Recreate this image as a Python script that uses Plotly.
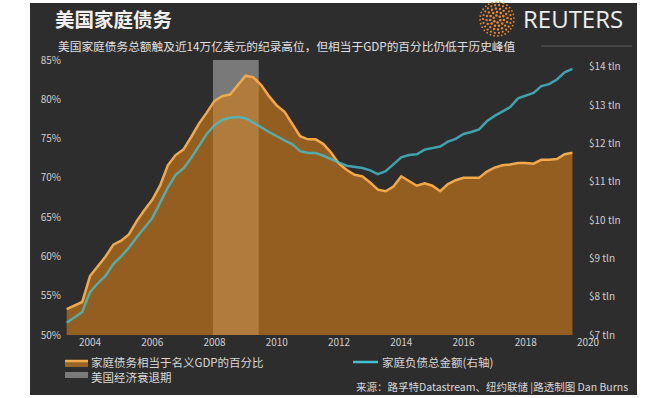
import math
import pandas as pd
import plotly.graph_objects as go

# ---------------- data ----------------
quarters = pd.period_range("2003Q1", "2019Q2", freq="Q")
x_years = [p.year + p.quarter / 4 for p in quarters]

debt_pct_gdp = [
    53.3, 53.8, 54.2, 57.5, 58.8, 60.0, 61.5, 62.0, 62.8, 64.5, 65.9, 67.2,
    69.0, 71.6, 72.9, 73.6, 75.2, 76.9, 78.3, 79.8, 80.4, 80.6, 81.8, 83.0,
    82.8, 81.8, 80.4, 79.2, 78.4, 76.8, 75.3, 74.9, 74.9, 74.3, 73.2, 71.8,
    71.0, 70.4, 70.2, 69.4, 68.5, 68.3, 68.9, 70.2, 69.6, 69.0, 69.3, 69.0,
    68.3, 69.2, 69.7, 70.0, 70.0, 70.0, 70.8, 71.3, 71.6, 71.7, 71.9, 71.9,
    71.8, 72.3, 72.3, 72.4, 73.0, 73.2,
]
debt_total_tln = [
    7.32, 7.45, 7.60, 8.12, 8.35, 8.55, 8.85, 9.05, 9.28, 9.55, 9.80, 10.05,
    10.45, 10.85, 11.18, 11.35, 11.62, 11.95, 12.25, 12.48, 12.62, 12.67, 12.69, 12.66,
    12.55, 12.42, 12.30, 12.18, 12.08, 11.98, 11.80, 11.75, 11.75, 11.68, 11.58, 11.50,
    11.42, 11.38, 11.36, 11.30, 11.20, 11.28, 11.45, 11.64, 11.70, 11.72, 11.84, 11.88,
    11.92, 12.05, 12.12, 12.25, 12.30, 12.37, 12.58, 12.72, 12.84, 12.95, 13.18, 13.25,
    13.32, 13.50, 13.55, 13.67, 13.86, 13.95,
]
recession = [2007.95, 2009.42]

x_ticks = [2004, 2006, 2008, 2010, 2012, 2014, 2016, 2018, 2020]
y_ticks = [50, 55, 60, 65, 70, 75, 80, 85]
y_ticktext = [f"{v}%" for v in y_ticks]
y2_ticks = [7, 8, 9, 10, 11, 12, 13, 14]
y2_ticktext = [f"${v} tln" for v in y2_ticks]

title = "美国家庭债务"
subtitle = "美国家庭债务总额触及近14万亿美元的纪录高位，但相当于GDP的百分比仍低于历史峰值"
legend_pct = "家庭债务相当于名义GDP的百分比"
legend_rec = "美国经济衰退期"
legend_total = "家庭负债总金额(右轴)"
source = "来源：路孚特Datastream、纽约联储 |路透制图 Dan Burns"

# ---------------- layout geometry ----------------
W, H = 650, 398
L, R, T, B = 62, 588, 60, 335
PW, PH = R - L, B - T
FONT = "Noto Sans CJK SC"
BG = "#2d2d2d"
ORANGE_LINE = "#f2a94b"
ORANGE_FILL = "rgba(210,125,22,0.62)"
TEAL = "#45c0cf"


def px(x):
    return (x - L) / PW


def py(y):
    return (B - y) / PH


fig = go.Figure()

fig.add_trace(go.Scatter(
    x=x_years, y=debt_pct_gdp, mode="lines", fill="tozeroy",
    fillcolor=ORANGE_FILL, line=dict(color=ORANGE_LINE, width=2.5),
    hoverinfo="skip", showlegend=False,
))
fig.add_trace(go.Scatter(
    x=x_years, y=debt_total_tln, mode="lines", yaxis="y2",
    line=dict(color=TEAL, width=2.5), opacity=0.8,
    hoverinfo="skip", showlegend=False,
))

shapes = []
# dark panel
shapes.append(dict(type="rect", xref="paper", yref="paper", layer="below",
                   x0=px(30), x1=px(637), y0=py(395), y1=py(3),
                   fillcolor=BG, line=dict(width=0)))
# recession band
shapes.append(dict(type="rect", xref="x", yref="paper", layer="below",
                   x0=recession[0], x1=recession[1], y0=0, y1=1,
                   fillcolor="rgba(205,205,205,0.48)", line=dict(width=0)))
# rule after subtitle
shapes.append(dict(type="line", xref="paper", yref="paper",
                   x0=px(541), x1=px(632), y0=py(46), y1=py(46),
                   line=dict(color="#5a5a5a", width=1)))
# legend swatches
shapes.append(dict(type="rect", xref="paper", yref="paper",
                   x0=px(65), x1=px(88), y0=py(367), y1=py(361),
                   fillcolor="#9a6424", line=dict(width=0)))
shapes.append(dict(type="line", xref="paper", yref="paper",
                   x0=px(65), x1=px(88), y0=py(361), y1=py(361),
                   line=dict(color=ORANGE_LINE, width=2.5)))
shapes.append(dict(type="rect", xref="paper", yref="paper",
                   x0=px(65), x1=px(88), y0=py(378), y1=py(372),
                   fillcolor="#7a7a7a", line=dict(width=0)))
shapes.append(dict(type="line", xref="paper", yref="paper",
                   x0=px(353), x1=px(378), y0=py(362), y1=py(362),
                   line=dict(color=TEAL, width=2.5)))

# Reuters logo (rings of dots)
cx, cy = 497, 19
rings = [(3.5, 6, 1.3), (7, 11, 1.3), (10.5, 16, 1.2), (14, 22, 1.1), (17, 28, 0.9)]
for rad, n, r in rings:
    for k in range(n):
        a = 2 * math.pi * k / n + rad
        xx = cx + rad * math.cos(a)
        yy = cy + rad * math.sin(a)
        shapes.append(dict(type="circle", xref="paper", yref="paper",
                           x0=px(xx - r), x1=px(xx + r), y0=py(yy + r), y1=py(yy - r),
                           fillcolor="#e88a2a", line=dict(width=0)))

annotations = [
    dict(text=f"<b>{title}</b>", x=px(53), y=py(19), xanchor="left", yanchor="middle",
         font=dict(size=19.5, color="#f0f0f0", family=FONT)),
    dict(text="REUTERS", x=px(521), y=py(19), xanchor="left", yanchor="middle",
         font=dict(size=24, color="#eeeeee", family="Open Sans")),
    dict(text=subtitle, x=px(56), y=py(45), xanchor="left", yanchor="middle",
         font=dict(size=11.7, color="#e0e0e0", family=FONT)),
    dict(text=legend_pct, x=px(89), y=py(362), xanchor="left", yanchor="middle",
         font=dict(size=11.5, color="#d8d8d8", family=FONT)),
    dict(text=legend_rec, x=px(89), y=py(377), xanchor="left", yanchor="middle",
         font=dict(size=11.5, color="#d8d8d8", family=FONT)),
    dict(text=legend_total, x=px(380), y=py(362), xanchor="left", yanchor="middle",
         font=dict(size=11.5, color="#d8d8d8", family=FONT)),
    dict(text=source, x=px(630), y=py(386), xanchor="right", yanchor="middle",
         font=dict(size=10.5, color="#d8d8d8", family=FONT)),
]
for a in annotations:
    a.update(xref="paper", yref="paper", showarrow=False)

tickfont = dict(size=10, color="#cfcfcf", family=FONT)
fig.update_layout(
    width=W, height=H,
    margin=dict(l=L, r=W - R, t=T, b=H - B, pad=0),
    paper_bgcolor="white", plot_bgcolor="rgba(0,0,0,0)",
    shapes=shapes, annotations=annotations,
    xaxis=dict(range=[2003.1, 2020.0], tickvals=x_ticks, ticktext=[str(v) for v in x_ticks],
               showgrid=False, zeroline=False, showline=False, ticks="",
               tickfont=tickfont, fixedrange=True),
    yaxis=dict(range=[50, 85], tickvals=y_ticks, ticktext=y_ticktext,
               showgrid=False, zeroline=False, showline=False, ticks="",
               tickfont=tickfont, fixedrange=True),
    yaxis2=dict(range=[7, 14.18], tickvals=y2_ticks, ticktext=y2_ticktext,
                overlaying="y", side="right",
                showgrid=False, zeroline=False, showline=False, ticks="",
                tickfont=tickfont, fixedrange=True),
    showlegend=False,
)

fig.write_html("out.html", config={"displayModeBar": False},
               post_script="document.body.style.margin='0';document.body.style.overflow='hidden';")
